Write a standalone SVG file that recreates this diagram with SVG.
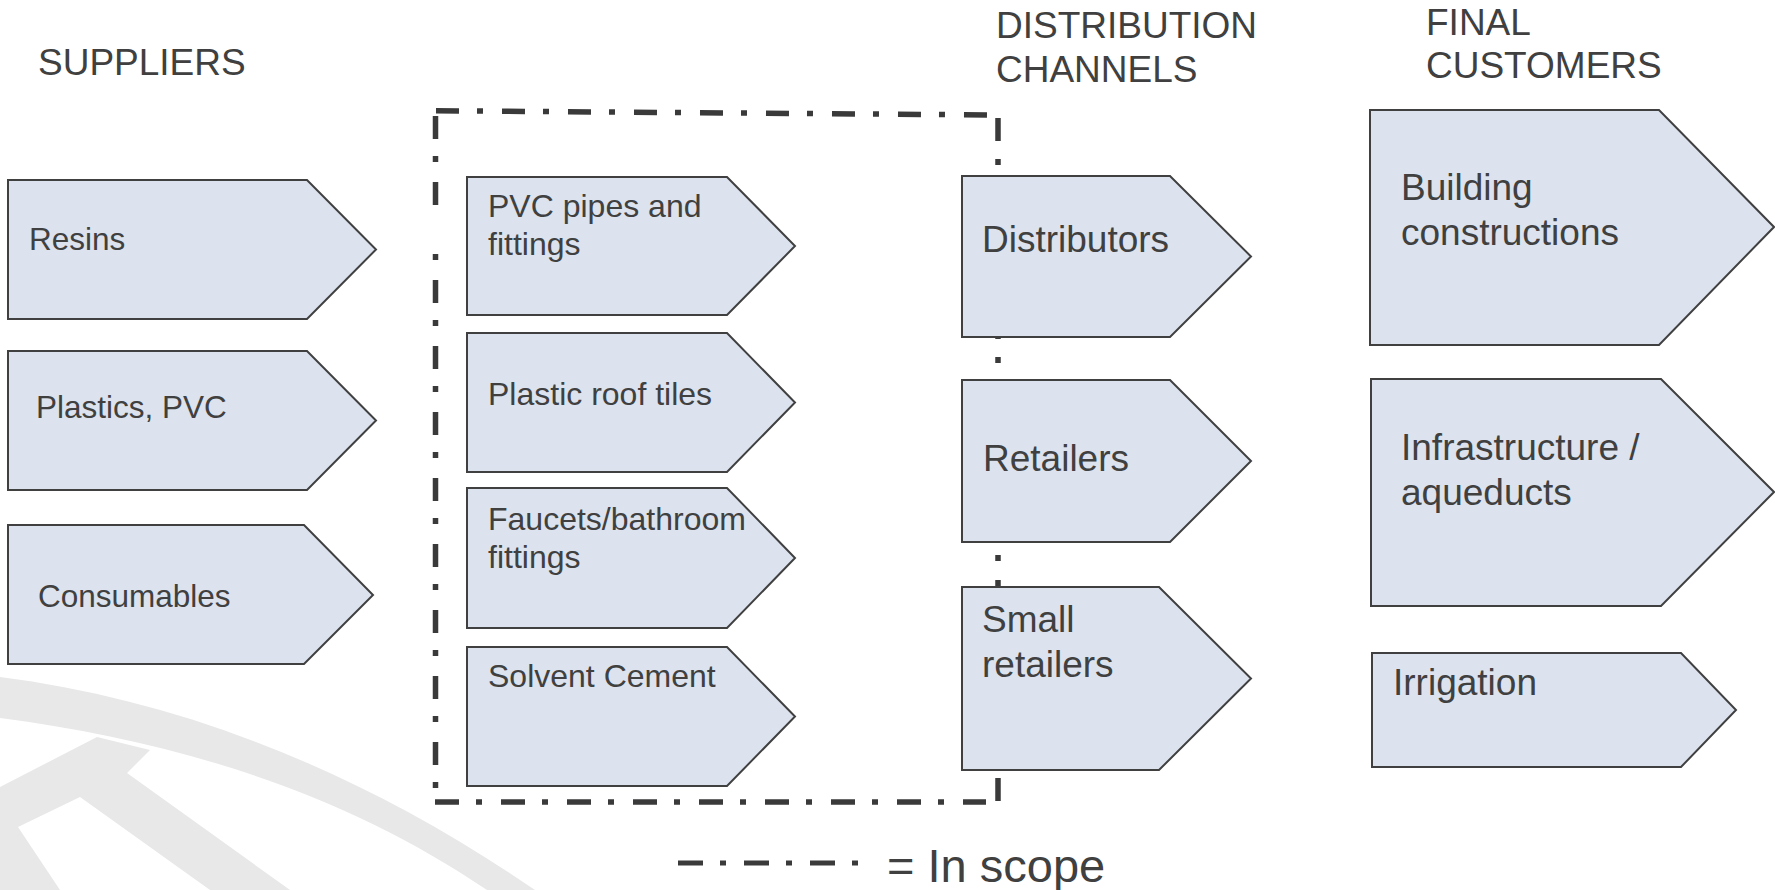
<svg xmlns="http://www.w3.org/2000/svg" width="1775" height="890" viewBox="0 0 1775 890">
<style>
.box{fill:#DCE3EE;stroke:#404040;stroke-width:2;stroke-linejoin:miter}
.t{font-family:"Liberation Sans",Arial,sans-serif;fill:#404040}
.s1{font-size:31.5px}
.s2{font-size:32px}
.s3{font-size:37px}
.scope{fill:none;stroke:#3A3A3A;stroke-width:5.5;stroke-dasharray:23 18 6 19}
.wm{fill:#E7E8E7}
</style>
<rect width="1775" height="890" fill="#FFFFFF"/>
<g id="watermark">
<path class="wm" d="M0,677 C180,700 360,770 535,890 L487,890 C340,790 170,740 0,718 Z"/>
<path class="wm" d="M0,787 L97,737 L150,750 L127,773 L290,890 L210,890 L80,797 L18,827 L60,890 L0,890 Z"/>
</g>
<g id="headers">
<text class="t s3" x="38" y="75">SUPPLIERS</text>
<text class="t s3" x="996" y="38">DISTRIBUTION</text>
<text class="t s3" x="996" y="82">CHANNELS</text>
<text class="t s3" x="1426" y="35">FINAL</text>
<text class="t s3" x="1426" y="78">CUSTOMERS</text>
</g>
<g id="connectors">
<line class="scope" x1="436" y1="110.7" x2="998" y2="115"/>
<line class="scope" x1="998" y1="118" x2="998" y2="801"/>
<line class="scope" x1="435" y1="802" x2="986" y2="802" style="stroke-dasharray:24 17 6 19"/>
<line class="scope" x1="435.5" y1="116" x2="435.5" y2="206" style="stroke-dasharray:23 17 6 20"/>
<line class="scope" x1="435.5" y1="240" x2="435.5" y2="802" style="stroke-dasharray:23 17 6 20;stroke-dashoffset:26"/>
</g>
<g id="supplier-resins">
<path class="box" d="M8,180 L307,180 L376,249.5 L307,319 L8,319 Z"/>
<text class="t s1" x="29" y="250">Resins</text>
</g>
<g id="supplier-plastics">
<path class="box" d="M8,351 L307,351 L376,420.5 L307,490 L8,490 Z"/>
<text class="t s1" x="36" y="418">Plastics, PVC</text>
</g>
<g id="supplier-consumables">
<path class="box" d="M8,525 L304,525 L373,595 L304,664 L8,664 Z"/>
<text class="t s1" x="38" y="607">Consumables</text>
</g>
<g id="product-pvc">
<path class="box" d="M467,177 L727,177 L795,246 L727,315 L467,315 Z"/>
<text class="t s2" x="488" y="217">PVC pipes and</text>
<text class="t s2" x="488" y="255">fittings</text>
</g>
<g id="product-roof">
<path class="box" d="M467,333 L727,333 L795,402.5 L727,472 L467,472 Z"/>
<text class="t s2" x="488" y="405">Plastic roof tiles</text>
</g>
<g id="product-faucets">
<path class="box" d="M467,488 L727,488 L795,558 L727,628 L467,628 Z"/>
<text class="t s2" x="488" y="530">Faucets/bathroom</text>
<text class="t s2" x="488" y="568">fittings</text>
</g>
<g id="product-cement">
<path class="box" d="M467,647 L727,647 L795,716.5 L727,786 L467,786 Z"/>
<text class="t s2" x="488" y="687">Solvent Cement</text>
</g>
<g id="channel-distributors">
<path class="box" d="M962,176 L1170,176 L1251,256.5 L1170,337 L962,337 Z"/>
<text class="t s3" x="982" y="252">Distributors</text>
</g>
<g id="channel-retailers">
<path class="box" d="M962,380 L1170,380 L1251,461 L1170,542 L962,542 Z"/>
<text class="t s3" x="983" y="471">Retailers</text>
</g>
<g id="channel-small">
<path class="box" d="M962,587 L1159,587 L1251,678.5 L1159,770 L962,770 Z"/>
<text class="t s3" x="982" y="632">Small</text>
<text class="t s3" x="982" y="677">retailers</text>
</g>
<g id="customer-building">
<path class="box" d="M1370,110 L1659,110 L1774,227 L1659,345 L1370,345 Z"/>
<text class="t s3" x="1401" y="200">Building</text>
<text class="t s3" x="1401" y="245">constructions</text>
</g>
<g id="customer-infra">
<path class="box" d="M1371,379 L1661,379 L1774,492 L1661,606 L1371,606 Z"/>
<text class="t s3" x="1401" y="460">Infrastructure /</text>
<text class="t s3" x="1401" y="505">aqueducts</text>
</g>
<g id="customer-irrigation">
<path class="box" d="M1372,653 L1681,653 L1736,710 L1681,767 L1372,767 Z"/>
<text class="t s3" x="1393" y="695">Irrigation</text>
</g>
<g id="legend">
<line x1="678" y1="863" x2="858" y2="863" style="fill:none;stroke:#3A3A3A;stroke-width:5;stroke-dasharray:25 17 6 18"/>
<text class="t" x="887" y="882" style="font-size:47px">= In scope</text>
</g>
</svg>
